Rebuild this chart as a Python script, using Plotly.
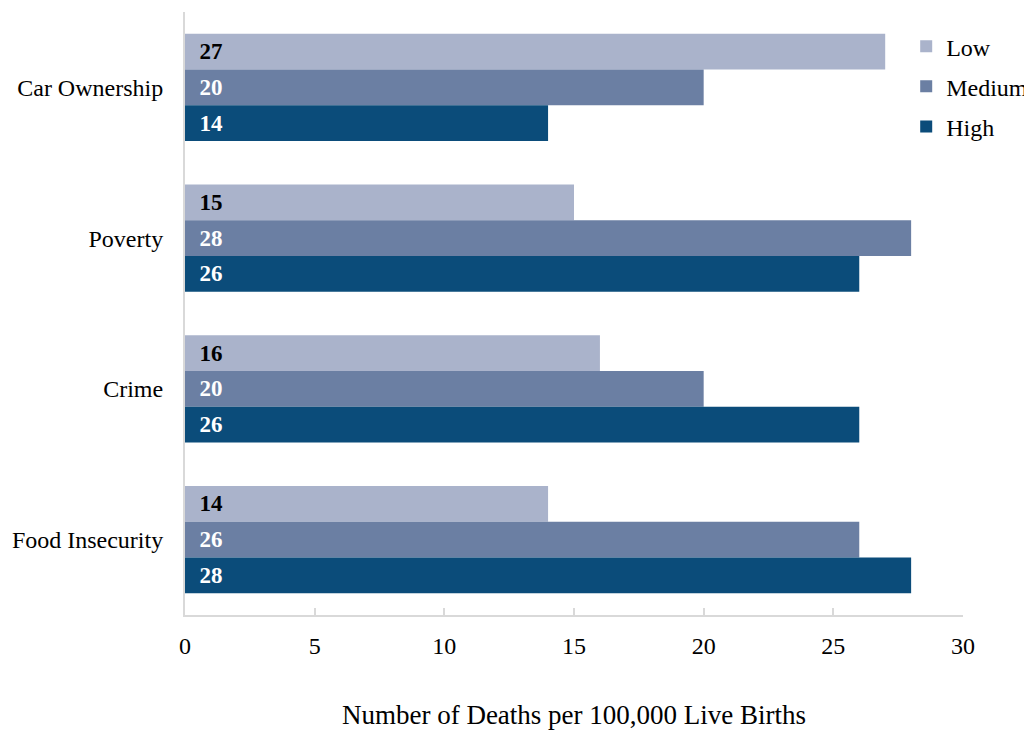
import plotly.graph_objects as go

categories = ["Car Ownership", "Poverty", "Crime", "Food Insecurity"]
low = [27, 15, 16, 14]
medium = [20, 28, 20, 26]
high = [14, 26, 26, 28]
series_names = ["Low", "Medium", "High"]
colors = ["#aab3cb", "#6b7fa3", "#0b4c7a"]
text_colors = ["#000000", "#ffffff", "#ffffff"]
tick_vals = [0, 5, 10, 15, 20, 25, 30]

FONT = "Liberation Serif, Times New Roman, serif"

fig = go.Figure()
for name, vals, c, tc in zip(series_names, [low, medium, high], colors, text_colors):
    fig.add_trace(go.Bar(
        y=categories, x=vals, name=name, orientation="h",
        marker=dict(color=c, line=dict(width=0)),
        text=vals,
        texttemplate="\u00a0\u00a0<b>%{x}</b>",
        textposition="inside", insidetextanchor="start",
        textfont=dict(family=FONT, size=23, color=tc),
        legendgroup=name,
        cliponaxis=False,
    ))

fig.update_layout(
    width=1024, height=722,
    margin=dict(l=177, r=69, t=4, b=115, autoexpand=False),
    paper_bgcolor="white", plot_bgcolor="white",
    barmode="group", bargap=0.29, bargroupgap=0,
    font=dict(family=FONT, size=24, color="#000000"),
    showlegend=True,
    legend=dict(x=0.927, xanchor="left", y=0.98, yanchor="top",
                font=dict(size=24), tracegroupgap=6,
                bgcolor="rgba(0,0,0,0)", itemwidth=30),
    uniformtext=dict(mode=False),
)
fig.update_xaxes(range=[0, 30], tickvals=tick_vals, showgrid=False, zeroline=False,
                 showline=True, linecolor="#d9d9d9", linewidth=2,
                 ticks="inside", ticklen=7, tickcolor="#d9d9d9", tickwidth=2,
                 ticklabelstandoff=8,
                 tickfont=dict(size=24),
                 title=dict(text="Number of Deaths per 100,000 Live Births",
                            font=dict(size=27), standoff=63))
fig.update_yaxes(autorange="reversed", showgrid=False, zeroline=False,
                 showline=True, linecolor="#d9d9d9", linewidth=2,
                 ticks="", ticklabelstandoff=15, tickfont=dict(size=24))

fig.write_html("out.html")
